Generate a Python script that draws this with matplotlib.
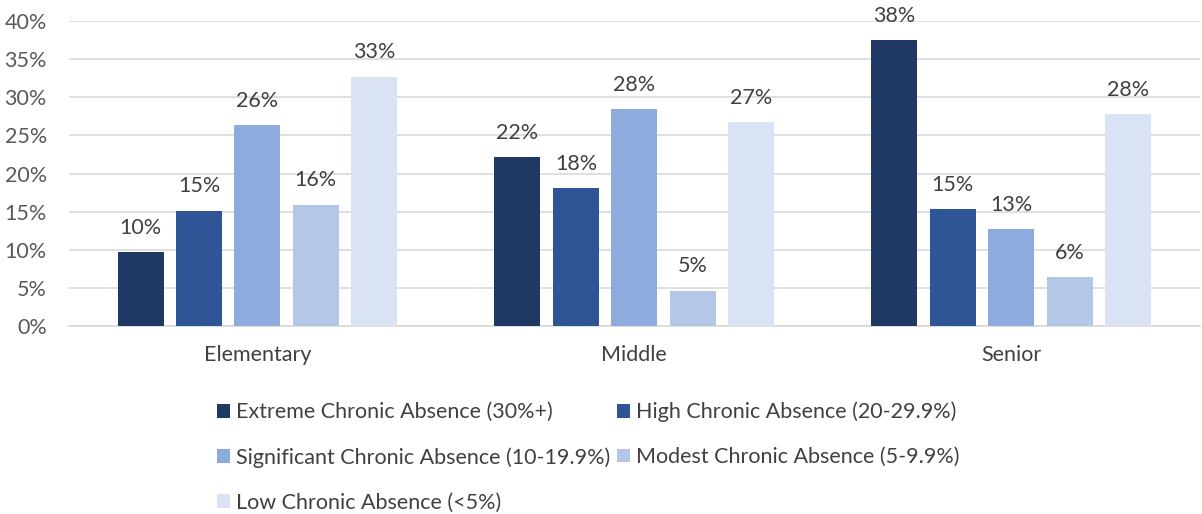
import matplotlib
matplotlib.use("Agg")
import matplotlib.pyplot as plt
import numpy as np
from matplotlib.patches import Patch

categories = ["Elementary", "Middle", "Senior"]
series_names = [
    "Extreme Chronic Absence (30%+)",
    "High Chronic Absence (20-29.9%)",
    "Significant Chronic Absence (10-19.9%)",
    "Modest Chronic Absence (5-9.9%)",
    "Low Chronic Absence (<5%)",
]
extreme = [9.7, 22.1, 37.5]
high = [15.1, 18.1, 15.3]
significant = [26.3, 28.4, 12.7]
modest = [15.9, 4.6, 6.4]
low = [32.7, 26.7, 27.8]
yticks = [0, 5, 10, 15, 20, 25, 30, 35, 40]

series = [extreme, high, significant, modest, low]
colors = ["#203864", "#2F5597", "#8FAADC", "#B4C7E7", "#DAE3F3"]

plt.rcParams['font.family'] = ['Lato', 'DejaVu Sans']
FS = 15.5

fig = plt.figure(figsize=(12.02, 5.14), dpi=100)
ax = fig.add_axes([0.0574, 1 - 326/514, 0.9406, (326 - 21)/514])

x = np.arange(len(categories))
bw = 0.122
step = 0.155
for i, (vals, c, name) in enumerate(zip(series, colors, series_names)):
    pos = x + (i - 2) * step
    ax.bar(pos, vals, width=bw, color=c, label=name, zorder=3)
    for p, v in zip(pos, vals):
        ax.text(p, v + 1.9, f"{v:.0f}%", ha="center", va="bottom",
                fontsize=FS, color="#404040")

ax.set_xlim(-0.5, 2.5)
ax.set_ylim(0, 40)
ax.set_yticks(yticks)
ax.set_yticklabels([f"{t}%" for t in yticks], fontsize=FS, color="#595959")
ax.set_xticks(x)
ax.set_xticklabels(categories, fontsize=FS, color="#404040")
ax.tick_params(axis="both", length=0)
ax.tick_params(axis="y", pad=16)
ax.tick_params(axis="x", pad=14)
ax.grid(axis="y", color="#D9D9D9", linewidth=1.2, zorder=0)
for s in ["top", "right", "left"]:
    ax.spines[s].set_visible(False)
ax.spines["bottom"].set_color("#D9D9D9")
ax.spines["bottom"].set_linewidth(1.2)

order = [0, 2, 4, 1, 3]
handles = [Patch(facecolor=colors[i]) for i in order]
labels = [series_names[i] for i in order]
fig.legend(handles, labels, ncol=2, loc="upper left",
           bbox_to_anchor=(206/1202, 1 - 391/514), frameon=False,
           fontsize=FS, labelcolor="#404040", handlelength=0.6,
           handleheight=0.6, handletextpad=0.3, columnspacing=0.3,
           labelspacing=1.15, borderpad=0)

fig.savefig("out.png", dpi=100)
